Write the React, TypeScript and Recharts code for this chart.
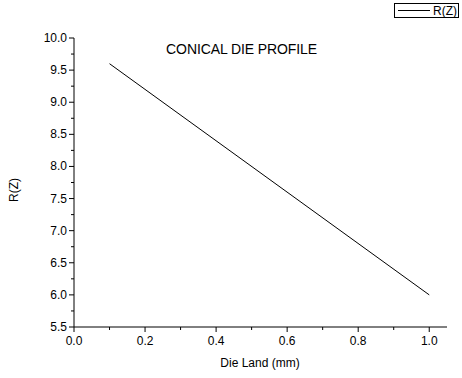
import { LineChart, Line, XAxis, YAxis } from 'recharts'

const dieLand = [0.1, 1.0]
const radius = [9.6, 6.0]
const xTicks = [0, 0.1, 0.2, 0.3, 0.4, 0.5, 0.6, 0.7, 0.8, 0.9, 1.0]
const yTicks = [5.5, 5.75, 6.0, 6.25, 6.5, 6.75, 7.0, 7.25, 7.5, 7.75, 8.0, 8.25, 8.5, 8.75, 9.0, 9.25, 9.5, 9.75, 10.0]

const data = dieLand.map((x, i) => ({ x, r: radius[i] }))

const FONT = 'Liberation Sans, Arial, sans-serif'

function isMajor(v: number, step: number) {
  const k = v / step
  return Math.abs(k - Math.round(k)) < 1e-6
}

function XTick({ x, y, payload }: any) {
  const major = isMajor(payload.value, 0.2)
  return (
    <g>
      <line x1={x} x2={x} y1={y} y2={y + (major ? 5 : 3)} stroke="#000" />
      {major && (
        <text x={x} y={y + 18} textAnchor="middle" fontSize={12} fontFamily={FONT} fill="#000">
          {payload.value.toFixed(1)}
        </text>
      )}
    </g>
  )
}

function YTick({ x, y, payload }: any) {
  const major = isMajor(payload.value, 0.5)
  return (
    <g>
      <line x1={x} x2={x - (major ? 5 : 3)} y1={y} y2={y} stroke="#000" />
      {major && (
        <text x={x - 7} y={y + 4} textAnchor="end" fontSize={12} fontFamily={FONT} fill="#000">
          {payload.value.toFixed(1)}
        </text>
      )}
    </g>
  )
}

export default function App() {
  return (
    <div style={{ position: 'absolute', left: 0, top: 0, width: 462, height: 378, background: '#fff' }}>
      <LineChart width={462} height={378} data={data} margin={{ top: 38, right: 15, bottom: 21, left: 0 }}>
        <XAxis
          dataKey="x"
          type="number"
          domain={[0, 1.05]}
          ticks={xTicks}
          interval={0}
          allowDataOverflow
          height={30}
          stroke="#000"
          tickLine={false}
          tickSize={0}
          tickMargin={0}
          tick={<XTick />}
          label={{
            content: () => (
              <text x={260} y={367} textAnchor="middle" fontSize={12} fontFamily={FONT} fill="#000">
                Die Land (mm)
              </text>
            ),
          }}
        />
        <YAxis
          type="number"
          domain={[5.5, 10]}
          ticks={yTicks}
          interval={0}
          width={74}
          stroke="#000"
          tickLine={false}
          tickSize={0}
          tickMargin={0}
          tick={<YTick />}
          label={{
            content: () => (
              <text x={18} y={190} transform="rotate(-90 18 190)" textAnchor="middle" fontSize={12} fontFamily={FONT} fill="#000">
                R(Z)
              </text>
            ),
          }}
        />
        <Line
          dataKey="r"
          name="R(Z)"
          type="linear"
          stroke="#000"
          strokeWidth={1}
          dot={false}
          isAnimationActive={false}
        />
      </LineChart>
      {/* legend box, top right */}
      <div
        style={{
          position: 'absolute',
          left: 394,
          top: 3,
          width: 63,
          height: 13,
          border: '1px solid #000',
          display: 'flex',
          alignItems: 'center',
          fontFamily: FONT,
          fontSize: 12,
          color: '#000',
        }}
      >
        <span style={{ width: 32, borderTop: '1px solid #000', margin: '0 3px 0 3px' }} />
        <span>R(Z)</span>
      </div>
      <div
        style={{
          position: 'absolute',
          left: 0,
          width: 483,
          top: 41,
          textAlign: 'center',
          fontFamily: FONT,
          fontSize: 14,
          letterSpacing: -0.1,
          color: '#000',
        }}
      >
        CONICAL DIE PROFILE
      </div>
    </div>
  )
}
